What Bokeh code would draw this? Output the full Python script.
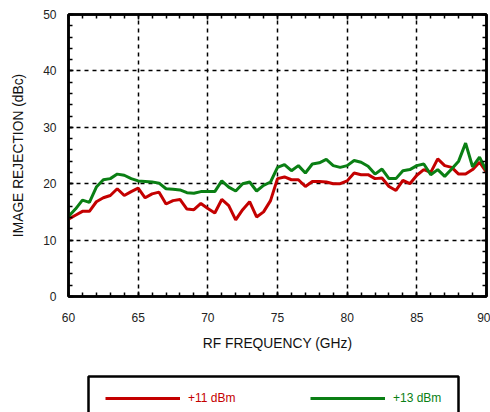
import numpy as np
from bokeh.plotting import figure
from bokeh.layouts import column
from bokeh.models import (LinearAxis, FixedTicker, Legend, LegendItem, BoxAnnotation,
                          ColumnDataSource, CustomJSTickFormatter)
from bokeh.embed import file_html
from bokeh.resources import INLINE

freq = [60 + 0.5 * i for i in range(61)]
rej_11dbm = [13.7, 14.4, 15.1, 15.1, 16.8, 17.5, 17.9, 19.1, 17.9, 18.6,
             19.2, 17.5, 18.2, 18.5, 16.4, 17.0, 17.2, 15.5, 15.4, 16.5,
             15.6, 14.8, 17.2, 16.1, 13.6, 15.4, 16.8, 14.1, 15.0, 17.0,
             20.9, 21.2, 20.7, 20.7, 19.5, 20.4, 20.4, 20.3, 20.0, 20.0,
             20.5, 21.9, 21.6, 21.6, 20.9, 21.0, 19.5, 18.8, 20.6, 20.0,
             21.5, 22.5, 22.0, 24.4, 23.2, 22.9, 21.7, 21.7, 22.5, 23.8,
             22.0]
rej_13dbm = [14.2, 15.5, 17.1, 16.7, 19.4, 20.7, 20.9, 21.7, 21.5, 20.9,
             20.5, 20.4, 20.3, 20.1, 19.1, 19.0, 18.9, 18.4, 18.3, 18.6,
             18.6, 18.6, 20.5, 19.4, 18.7, 20.0, 20.3, 18.7, 19.7, 20.3,
             22.9, 23.4, 22.3, 23.2, 21.9, 23.5, 23.7, 24.3, 23.2, 22.9,
             23.2, 24.1, 23.8, 23.1, 21.7, 22.6, 20.9, 20.9, 22.3, 22.5,
             23.2, 23.5, 21.6, 22.5, 21.3, 22.6, 24.0, 27.2, 23.0, 24.7,
             22.3]
x_ticks = [60, 65, 70, 75, 80, 85, 90]
y_ticks = [0, 10, 20, 30, 40, 50]
series_labels = ["+11 dBm", "+13 dBm"]

RED = "#c40000"
GREEN = "#0a7f14"
FONT = "Liberation Sans"

src = ColumnDataSource(dict(f=freq, a=rej_11dbm, b=rej_13dbm))

p = figure(width=490, height=370, x_range=(60, 90), y_range=(0, 50),
           output_backend="svg", toolbar_location=None,
           min_border_left=68, min_border_right=4, min_border_top=14,
           min_border_bottom=74, x_axis_location=None, y_axis_location=None)
p.outline_line_color = "black"
p.outline_line_width = 2.5
p.background_fill_color = "white"
p.border_fill_color = "white"

xt = FixedTicker(ticks=x_ticks, minor_ticks=list(range(60, 91)))
yt = FixedTicker(ticks=y_ticks, minor_ticks=list(range(0, 51, 2)))
blank = CustomJSTickFormatter(code="return '';")

def style_axis(ax, show_labels):
    ax.axis_line_color = "black"
    ax.axis_line_width = 2.5
    ax.major_tick_in = 5
    ax.major_tick_out = 0
    ax.minor_tick_in = 4
    ax.minor_tick_out = 0
    ax.major_tick_line_width = 1.5
    ax.minor_tick_line_width = 1.5
    ax.major_label_text_font = FONT
    ax.major_label_text_font_size = "12px"
    ax.major_label_text_color = "#222222"
    ax.axis_label_text_font = FONT
    ax.axis_label_text_font_size = "13.8px"
    ax.axis_label_text_font_style = "normal"
    ax.axis_label_text_color = "#111111"
    if not show_labels:
        ax.formatter = blank
        ax.major_label_standoff = 0

xb = LinearAxis(ticker=xt, axis_label="RF FREQUENCY (GHz)")
style_axis(xb, True)
xb.major_label_standoff = 16
xb.axis_label_standoff = 11
p.add_layout(xb, "below")

yl = LinearAxis(ticker=yt, axis_label="IMAGE REJECTION (dBc)")
style_axis(yl, True)
yl.major_label_standoff = 12
yl.axis_label_standoff = 14
p.add_layout(yl, "left")

xa = LinearAxis(ticker=xt)
style_axis(xa, False)
p.add_layout(xa, "above")

yr = LinearAxis(ticker=yt)
style_axis(yr, False)
p.add_layout(yr, "right")

p.xgrid.ticker = xt
p.ygrid.ticker = yt
for g in (p.xgrid, p.ygrid):
    g.grid_line_color = "black"
    g.grid_line_width = 1.5
    g.grid_line_dash = "4 4"

p.line("f", "a", source=src, line_color=RED, line_width=3)
p.line("f", "b", source=src, line_color=GREEN, line_width=3)

# legend strip (frame aligned with the main plot's frame)
lf = figure(width=490, height=42, x_range=(0, 1), y_range=(0, 1),
            output_backend="svg", toolbar_location=None,
            min_border_left=68, min_border_right=4, min_border_top=0,
            min_border_bottom=0, x_axis_location=None, y_axis_location=None)
lf.outline_line_color = None
lf.grid.visible = False
lf.border_fill_color = "white"

empty = ColumnDataSource(dict(x=[np.nan], y=[np.nan]))
l11 = lf.line("x", "y", source=empty, line_color=RED, line_width=3)
l13 = lf.line("x", "y", source=empty, line_color=GREEN, line_width=3)

box = BoxAnnotation(left=20, right=390, top=36, bottom=-20,
                    left_units="screen", right_units="screen",
                    top_units="screen", bottom_units="screen",
                    fill_alpha=0, line_color="black", line_alpha=1.0,
                    line_width=2.5)
lf.add_layout(box)

for r, lab, col, xpos in ((l11, series_labels[0], RED, 37),
                          (l13, series_labels[1], GREEN, 242)):
    lg = Legend(items=[LegendItem(label=lab, renderers=[r])],
                location=(xpos, 7), orientation="horizontal",
                border_line_alpha=0, background_fill_alpha=0,
                glyph_width=75, glyph_height=14, label_standoff=8,
                label_text_font=FONT, label_text_font_size="12px",
                label_text_color=col, padding=0, margin=0)
    lf.add_layout(lg, "center")

layout = column(p, lf, spacing=0)
open("out.html", "w").write(file_html(layout, INLINE))
